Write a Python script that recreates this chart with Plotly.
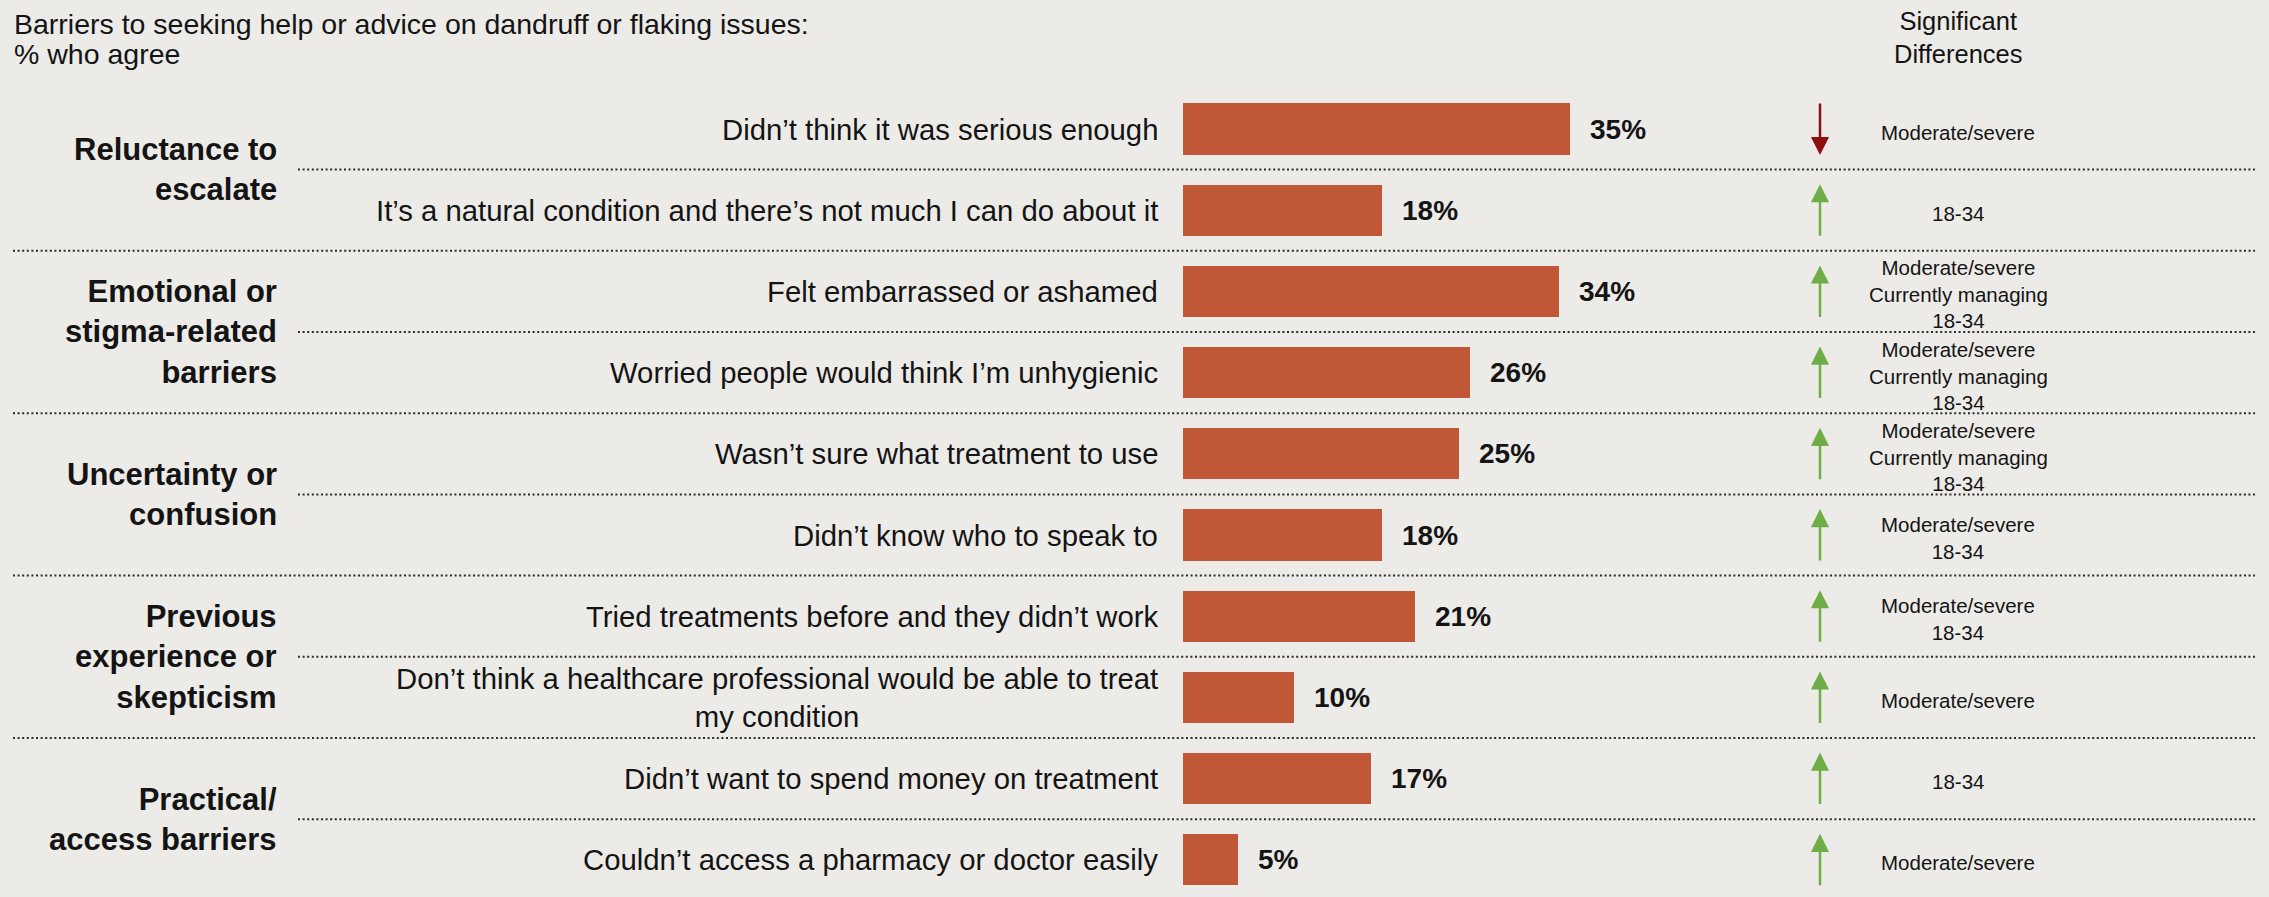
import plotly.graph_objects as go

# ---- data -------------------------------------------------------------
groups = [
    "Reluctance to<br>escalate",
    "Emotional or<br>stigma-related<br>barriers",
    "Uncertainty or<br>confusion",
    "Previous<br>experience or<br>skepticism",
    "Practical/<br>access barriers",
]
group_rows = [(0, 1), (2, 3), (4, 5), (6, 7), (8, 9)]

barriers = [
    "Didn’t think it was serious enough",
    "It’s a natural condition and there’s not much I can do about it",
    "Felt embarrassed or ashamed",
    "Worried people would think I’m unhygienic",
    "Wasn’t sure what treatment to use",
    "Didn’t know who to speak to",
    "Tried treatments before and they didn’t work",
    "Don’t think a healthcare professional would be able to treat<br>my condition",
    "Didn’t want to spend money on treatment",
    "Couldn’t access a pharmacy or doctor easily",
]
agree_pct = [35, 18, 34, 26, 25, 18, 21, 10, 17, 5]

sig_direction = ["down", "up", "up", "up", "up", "up", "up", "up", "up", "up"]
sig_groups = [
    "Moderate/severe",
    "18-34",
    "Moderate/severe<br>Currently managing<br>18-34",
    "Moderate/severe<br>Currently managing<br>18-34",
    "Moderate/severe<br>Currently managing<br>18-34",
    "Moderate/severe<br>18-34",
    "Moderate/severe<br>18-34",
    "Moderate/severe",
    "18-34",
    "Moderate/severe",
]

title_lines = ["Barriers to seeking help or advice on dandruff or flaking issues:", "% who agree"]
sig_header = "Significant<br>Differences"

# ---- layout constants --------------------------------------------------
W, H = 2269, 897
BAR_X0 = 1183          # pixel where 0% sits
PX_PER_PCT = 11.05     # pixel length of 1 percentage point
ROW0_Y = 129           # pixel centre of first row
ROW_PITCH = 81.2       # pixel distance between rows

FONT = "Liberation Sans, Arial, Helvetica, sans-serif"
TEXT = "#141414"
BAR = "#C05737"
BG = "#EDEBE8"
UP = "#6FAD47"
DOWN = "#8E0E10"
DOT = "#2a2a2a"

x_range = [-BAR_X0 / PX_PER_PCT, (W - BAR_X0) / PX_PER_PCT]
y_range = [(H - ROW0_Y) / ROW_PITCH, -ROW0_Y / ROW_PITCH]

rows = list(range(len(barriers)))

fig = go.Figure()
fig.add_trace(go.Bar(
    x=agree_pct, y=rows, orientation="h", width=0.63,
    marker=dict(color=BAR, line=dict(width=0)),
    hoverinfo="skip", showlegend=False,
))

ann = []

# title (two lines, tight leading) & column header
for line, y_px in zip(title_lines, [24, 54]):
    ann.append(dict(text=line, xref="paper", yref="paper", x=12 / W, y=1 - y_px / H,
                    xanchor="left", yanchor="middle", align="left", showarrow=False,
                    font=dict(family=FONT, size=28.5, color=TEXT)))
ann.append(dict(text=sig_header, xref="paper", yref="paper", x=1958 / W, y=1 - 37 / H,
                xanchor="center", yanchor="middle", align="center", showarrow=False,
                font=dict(family=FONT, size=25.5, color=TEXT)))

# group labels
for g, (a, b) in zip(groups, group_rows):
    ann.append(dict(text=g, xref="paper", yref="y", x=279 / W, y=(a + b) / 2,
                    xanchor="right", yanchor="middle", align="right", showarrow=False,
                    font=dict(family=FONT, size=31, color=TEXT, weight="bold")))

# barrier labels, value labels, significance markers
for i, (lab, v, d, sg) in enumerate(zip(barriers, agree_pct, sig_direction, sig_groups)):
    ann.append(dict(text=lab, xref="x", yref="y", x=0, y=i, xshift=-23,
                    xanchor="right", yanchor="middle", align="center", showarrow=False,
                    font=dict(family=FONT, size=29.3, color=TEXT)))
    ann.append(dict(text=f"{v}%", xref="x", yref="y", x=v, y=i, xshift=18,
                    xanchor="left", yanchor="middle", showarrow=False,
                    font=dict(family=FONT, size=28, color=TEXT, weight="bold")))
    ann.append(dict(text=sg, xref="paper", yref="y", x=1958 / W, y=i, yshift=-3,
                    xanchor="center", yanchor="middle", align="center", showarrow=False,
                    font=dict(family=FONT, size=20.5, color=TEXT)))
    tip = i - 26 / ROW_PITCH if d == "up" else i + 26 / ROW_PITCH
    ann.append(dict(text="", xref="paper", yref="y", x=1820 / W, y=tip,
                    ax=0, ay=53 if d == "up" else -53,
                    showarrow=True, arrowhead=2, arrowsize=1.45, arrowwidth=2.5,
                    arrowcolor=UP if d == "up" else DOWN))

# dotted separators: full width between groups, shorter inside a group
shapes = []
for i in range(len(barriers) - 1):
    between_groups = any(i == b for _, b in group_rows)
    x_start = 13 / W if between_groups else 298 / W
    shapes.append(dict(type="line", xref="paper", yref="y", x0=x_start, x1=2255 / W,
                       y0=i + 0.5, y1=i + 0.5,
                       line=dict(color=DOT, width=2, dash="2px,2.6px")))

fig.update_layout(
    width=W, height=H,
    margin=dict(l=0, r=0, t=0, b=0),
    paper_bgcolor=BG, plot_bgcolor=BG,
    xaxis=dict(range=x_range, domain=[0, 1], visible=False, fixedrange=True),
    yaxis=dict(range=y_range, domain=[0, 1], visible=False, fixedrange=True),
    annotations=ann, shapes=shapes,
    bargap=0, showlegend=False,
    font=dict(family=FONT, color=TEXT),
)

fig.write_html("out.html")
